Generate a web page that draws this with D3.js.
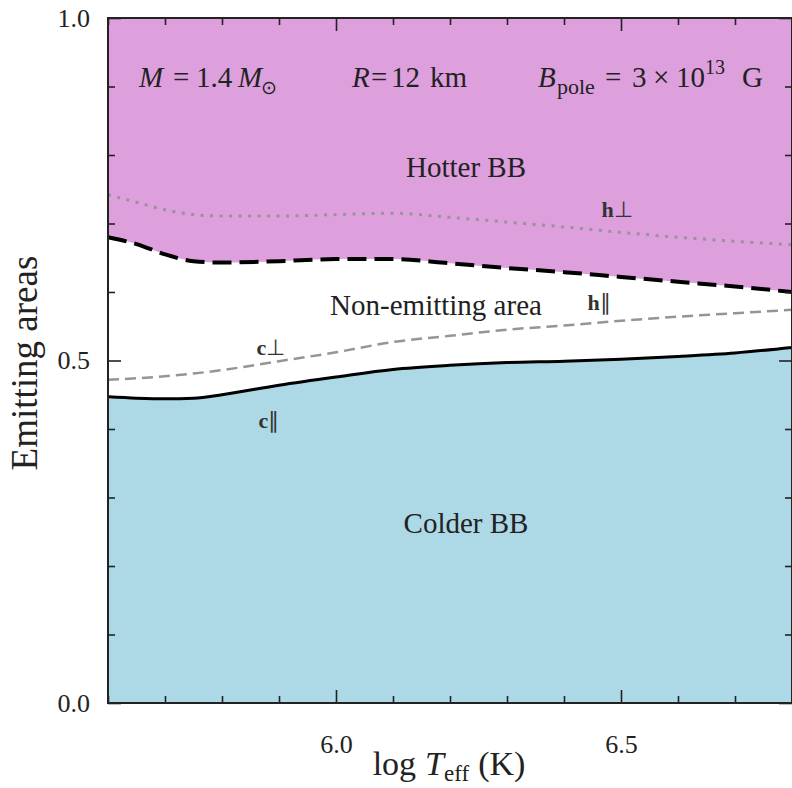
<!DOCTYPE html>
<html>
<head>
<meta charset="utf-8">
<script src="https://cdn.jsdelivr.net/npm/d3@7"></script>
<style>
  html, body { margin: 0; padding: 0; background: #fff; }
  svg { display: block; }
</style>
</head>
<body>
<div id="chart"></div>
<script>
// ---- data ----
const logT      = [5.6, 5.65, 5.7, 5.75, 5.8, 5.9, 6.0, 6.1, 6.2, 6.3, 6.4, 6.5, 6.6, 6.7, 6.8];
const hotPar    = [0.680, 0.670, 0.655, 0.645, 0.643, 0.645, 0.648, 0.648, 0.642, 0.635, 0.629, 0.622, 0.615, 0.608, 0.600]; // h∥ (hotter BB boundary)
const hotPerp   = [0.742, 0.731, 0.720, 0.713, 0.711, 0.711, 0.713, 0.715, 0.709, 0.702, 0.695, 0.687, 0.680, 0.674, 0.669]; // h⊥
const coldPar   = [0.447, 0.445, 0.444, 0.445, 0.450, 0.464, 0.476, 0.487, 0.493, 0.497, 0.499, 0.502, 0.506, 0.511, 0.519]; // c∥ (colder BB boundary)
const coldPerp  = [0.472, 0.474, 0.477, 0.481, 0.486, 0.499, 0.512, 0.527, 0.536, 0.545, 0.551, 0.558, 0.564, 0.569, 0.574]; // c⊥
const xMajorTicks = [6.0, 6.5];
const xMinorTicks = [5.6, 5.7, 5.8, 5.9, 6.1, 6.2, 6.3, 6.4, 6.6, 6.7, 6.8];
const yMajorTicks = [0.0, 0.5, 1.0];
const yMinorTicks = [0.1, 0.2, 0.3, 0.4, 0.6, 0.7, 0.8, 0.9];

const FONT = '"Liberation Serif", "Times New Roman", serif';
const W = 792, H = 788;
const margin = { left: 108, right: 0, top: 18, bottom: 85 };

const svg = d3.select("#chart").append("svg").attr("width", W).attr("height", H)
  .style("font-family", FONT);

const x = d3.scaleLinear().domain([5.6, 6.8]).range([margin.left, W - margin.right]);
const y = d3.scaleLinear().domain([0, 1]).range([H - margin.bottom, margin.top]);

const rows = logT.map((t, i) => ({ t, hp: hotPar[i], hq: hotPerp[i], cp: coldPar[i], cq: coldPerp[i] }));
const curve = d3.curveMonotoneX;

// regions
svg.append("path").datum(rows)
  .attr("fill", "#dda0dd")
  .attr("d", d3.area().curve(curve).x(d => x(d.t)).y0(d => y(d.hp)).y1(() => y(1)));
svg.append("path").datum(rows)
  .attr("fill", "#add8e6")
  .attr("d", d3.area().curve(curve).x(d => x(d.t)).y0(() => y(0)).y1(d => y(d.cp)));

const line = key => d3.line().curve(curve).x(d => x(d.t)).y(d => y(d[key]));

// curves
svg.append("path").datum(rows).attr("fill", "none").attr("stroke", "#959595")
  .attr("stroke-width", 3).attr("stroke-dasharray", "3,6.5").attr("d", line("hq"));
svg.append("path").datum(rows).attr("fill", "none").attr("stroke", "#000")
  .attr("stroke-width", 4).attr("stroke-dasharray", "19,8").attr("d", line("hp"));
svg.append("path").datum(rows).attr("fill", "none").attr("stroke", "#959595")
  .attr("stroke-width", 2.5).attr("stroke-dasharray", "11,6").attr("d", line("cq"));
svg.append("path").datum(rows).attr("fill", "none").attr("stroke", "#000")
  .attr("stroke-width", 3).attr("d", line("cp"));

// axes (ticks inward on all four sides)
function styleAxis(g) {
  g.attr("font-family", null).attr("font-size", null);
  g.select(".domain").remove();
  g.selectAll(".tick line").attr("stroke", "#222").attr("stroke-width", 1.6);
  g.selectAll(".tick text").attr("fill", "#222").style("font-family", FONT).style("font-size", "26px");
}
const yB = y(0), yT = y(1), xL = x(5.6), xR = x(6.8);

svg.append("g").attr("transform", `translate(0,${yB})`)
  .call(d3.axisBottom(x).tickValues(xMajorTicks).tickSize(-13).tickPadding(32).tickFormat(d3.format(".1f"))).call(styleAxis);
svg.append("g").attr("transform", `translate(0,${yB})`)
  .call(d3.axisBottom(x).tickValues(xMinorTicks).tickSize(-7).tickFormat("")).call(styleAxis);
svg.append("g").attr("transform", `translate(0,${yT})`)
  .call(d3.axisTop(x).tickValues(xMajorTicks).tickSize(-13).tickFormat("")).call(styleAxis);
svg.append("g").attr("transform", `translate(0,${yT})`)
  .call(d3.axisTop(x).tickValues(xMinorTicks).tickSize(-7).tickFormat("")).call(styleAxis);

svg.append("g").attr("transform", `translate(${xL},0)`)
  .call(d3.axisLeft(y).tickValues(yMajorTicks).tickSize(-13).tickPadding(18).tickFormat(d3.format(".1f"))).call(styleAxis);
svg.append("g").attr("transform", `translate(${xL},0)`)
  .call(d3.axisLeft(y).tickValues(yMinorTicks).tickSize(-7).tickFormat("")).call(styleAxis);
svg.append("g").attr("transform", `translate(${xR},0)`)
  .call(d3.axisRight(y).tickValues(yMajorTicks).tickSize(-13).tickFormat("")).call(styleAxis);
svg.append("g").attr("transform", `translate(${xR},0)`)
  .call(d3.axisRight(y).tickValues(yMinorTicks).tickSize(-7).tickFormat("")).call(styleAxis);

// frame
svg.append("rect").attr("x", xL).attr("y", yT).attr("width", xR - xL).attr("height", yB - yT)
  .attr("fill", "none").attr("stroke", "#222").attr("stroke-width", 2);

// region labels
const regionLabel = (t, tx, ty) => svg.append("text").attr("x", tx).attr("y", ty)
  .attr("text-anchor", "middle").attr("fill", "#222").style("font-family", FONT).style("font-size", "29px").text(t);
regionLabel("Hotter BB", 466, 177);
regionLabel("Non-emitting area", 436, 315);
regionLabel("Colder BB", 466, 533);

// curve labels
const curveLabel = (base, sym, tx, ty) => {
  const t = svg.append("text").attr("x", tx).attr("y", ty).attr("text-anchor", "middle")
    .style("font-family", FONT).style("font-size", "22px").style("font-weight", "bold").attr("fill", "#333");
  t.append("tspan").text(base);
  t.append("tspan").style("font-weight", "normal").text(sym);
};
curveLabel("h", "⊥", 617, 217);
curveLabel("h", "∥", 599, 310);
curveLabel("c", "⊥", 271, 355);
curveLabel("c", "∥", 269, 428);

// parameters annotation (each token placed like LaTeX math spacing)
const ann = svg.append("text").attr("y", 87).attr("fill", "#222")
  .style("font-family", FONT).style("font-size", "29px");
const tok = (s, tx, opts = {}) => {
  const t = ann.append("tspan").attr("x", tx).text(s);
  if (opts.italic) t.style("font-style", "italic");
  if (opts.size) t.style("font-size", opts.size);
  t.attr("y", opts.y || 87);
  return t;
};
tok("M", 139, { italic: true });
tok("=", 173);
tok("1.4", 196);
tok("M", 238, { italic: true });
tok("⊙", 261, { size: "19px", y: 94 });
tok("R", 352, { italic: true });
tok("=", 371);
tok("12", 391);
tok("km", 430);
tok("B", 538, { italic: true });
tok("pole", 557, { size: "22px", y: 94 });
tok("=", 605);
tok("3", 632);
tok("×", 653);
tok("10", 676);
tok("13", 705, { size: "20px", y: 74 });
tok("G", 742);

// axis titles
const xt = svg.append("text").attr("x", 449).attr("y", 775).attr("text-anchor", "middle")
  .attr("fill", "#222").style("font-family", FONT).style("font-size", "34px");
xt.append("tspan").text("log");
xt.append("tspan").attr("dx", 9).style("font-style", "italic").text("T");
xt.append("tspan").attr("dy", 6).style("font-size", "23px").text("eff");
xt.append("tspan").attr("dy", -6).attr("dx", 9).text("(K)");

svg.append("text").attr("transform", "translate(37,363) rotate(-90)")
  .attr("text-anchor", "middle").attr("fill", "#222")
  .style("font-family", FONT).style("font-size", "37px").text("Emitting areas");
</script>
</body>
</html>
